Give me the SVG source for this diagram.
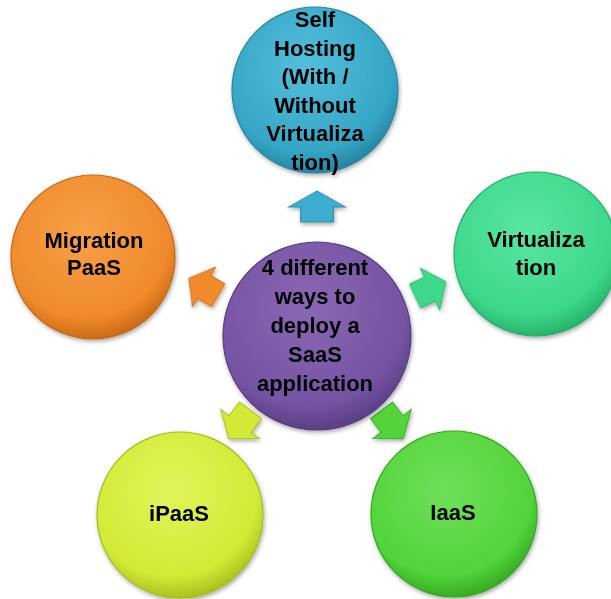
<svg xmlns="http://www.w3.org/2000/svg" width="611" height="599" viewBox="0 0 611 599">
<style>
.lbl{font-family:"Liberation Sans",Arial,sans-serif;font-weight:bold;font-size:22px;fill:#000;text-anchor:middle}
.node circle{stroke-width:1.2}
</style>
<defs>
<filter id="sh" x="-20%" y="-20%" width="140%" height="140%"><feGaussianBlur in="SourceAlpha" stdDeviation="2"/><feOffset dx="1" dy="2"/><feComponentTransfer><feFuncA type="linear" slope="0.35"/></feComponentTransfer><feMerge><feMergeNode/><feMergeNode in="SourceGraphic"/></feMerge></filter>
<radialGradient id="gBlue" cx="45%" cy="35%" r="65%"><stop offset="0" stop-color="#52bfdc"/><stop offset="0.8" stop-color="#36a6c6"/><stop offset="1" stop-color="#2586a3"/></radialGradient>
<radialGradient id="gPurple" cx="45%" cy="35%" r="65%"><stop offset="0" stop-color="#8a68b4"/><stop offset="0.8" stop-color="#7553a3"/><stop offset="1" stop-color="#5c3f86"/></radialGradient>
<radialGradient id="gOrange" cx="45%" cy="35%" r="65%"><stop offset="0" stop-color="#f8a048"/><stop offset="0.8" stop-color="#f08a2c"/><stop offset="1" stop-color="#cc6c16"/></radialGradient>
<radialGradient id="gTeal" cx="45%" cy="35%" r="65%"><stop offset="0" stop-color="#5ae6a2"/><stop offset="0.8" stop-color="#3cd88a"/><stop offset="1" stop-color="#27b46c"/></radialGradient>
<radialGradient id="gYellow" cx="45%" cy="35%" r="65%"><stop offset="0" stop-color="#e2f45a"/><stop offset="0.8" stop-color="#d2ea36"/><stop offset="1" stop-color="#adc21f"/></radialGradient>
<radialGradient id="gGreen" cx="45%" cy="35%" r="65%"><stop offset="0" stop-color="#70e05a"/><stop offset="0.8" stop-color="#52d43a"/><stop offset="1" stop-color="#38ac24"/></radialGradient>
<path id="arr" d="M-15,-12 L0,-12 L0,-21 L16,0 L0,21 L0,12 L-15,12 Z"/>
</defs>
<rect width="611" height="599" fill="#fff"/>
<g id="connectors" filter="url(#sh)">
<use href="#arr" transform="translate(317,207) rotate(-90) scale(1,1.36)" fill="#3eaed0" stroke="#2a8fac" stroke-width="0.8"/>
<use href="#arr" transform="translate(204,287) rotate(-150) scale(1.1)" fill="#f08a2c" stroke="#c96a16" stroke-width="0.8"/>
<use href="#arr" transform="translate(430,289) rotate(-25) scale(1.1)" fill="#3cd88a" stroke="#27b46c" stroke-width="0.8"/>
<use href="#arr" transform="translate(240,424) rotate(127) scale(1.15)" fill="#d2ea36" stroke="#a9bf1e" stroke-width="0.8"/>
<use href="#arr" transform="translate(392,424) rotate(53) scale(1.15)" fill="#52d43a" stroke="#38ac24" stroke-width="0.8"/>
</g>
<g id="node-top" class="node" filter="url(#sh)">
<circle cx="315" cy="90" r="83" fill="url(#gBlue)" stroke="#2a86a0"/>
<text class="lbl"><tspan x="315" y="27">Self</tspan><tspan x="315" y="56">Hosting</tspan><tspan x="315" y="84">(With /</tspan><tspan x="315" y="113">Without</tspan><tspan x="315" y="141">Virtualiza</tspan><tspan x="315" y="170">tion)</tspan></text>
</g>
<g id="node-center" class="node" filter="url(#sh)">
<circle cx="317" cy="336" r="94" fill="url(#gPurple)" stroke="#5a3d82"/>
<text class="lbl"><tspan x="315" y="275">4 different</tspan><tspan x="315" y="304">ways to</tspan><tspan x="315" y="333">deploy a</tspan><tspan x="315" y="362">SaaS</tspan><tspan x="315" y="391">application</tspan></text>
</g>
<g id="node-migration" class="node" filter="url(#sh)">
<circle cx="93" cy="257" r="82" fill="url(#gOrange)" stroke="#c46814"/>
<text class="lbl"><tspan x="94" y="248">Migration</tspan><tspan x="94" y="275">PaaS</tspan></text>
</g>
<g id="node-virtualization" class="node" filter="url(#sh)">
<circle cx="536" cy="254" r="82" fill="url(#gTeal)" stroke="#26ad68"/>
<text class="lbl"><tspan x="536" y="247">Virtualiza</tspan><tspan x="536" y="275">tion</tspan></text>
</g>
<g id="node-ipaas" class="node" filter="url(#sh)">
<circle cx="180" cy="515" r="83" fill="url(#gYellow)" stroke="#a6bb1c"/>
<text class="lbl" x="179" y="521">iPaaS</text>
</g>
<g id="node-iaas" class="node" filter="url(#sh)">
<circle cx="454" cy="514" r="83" fill="url(#gGreen)" stroke="#36a622"/>
<text class="lbl" x="453" y="520">IaaS</text>
</g>
</svg>
